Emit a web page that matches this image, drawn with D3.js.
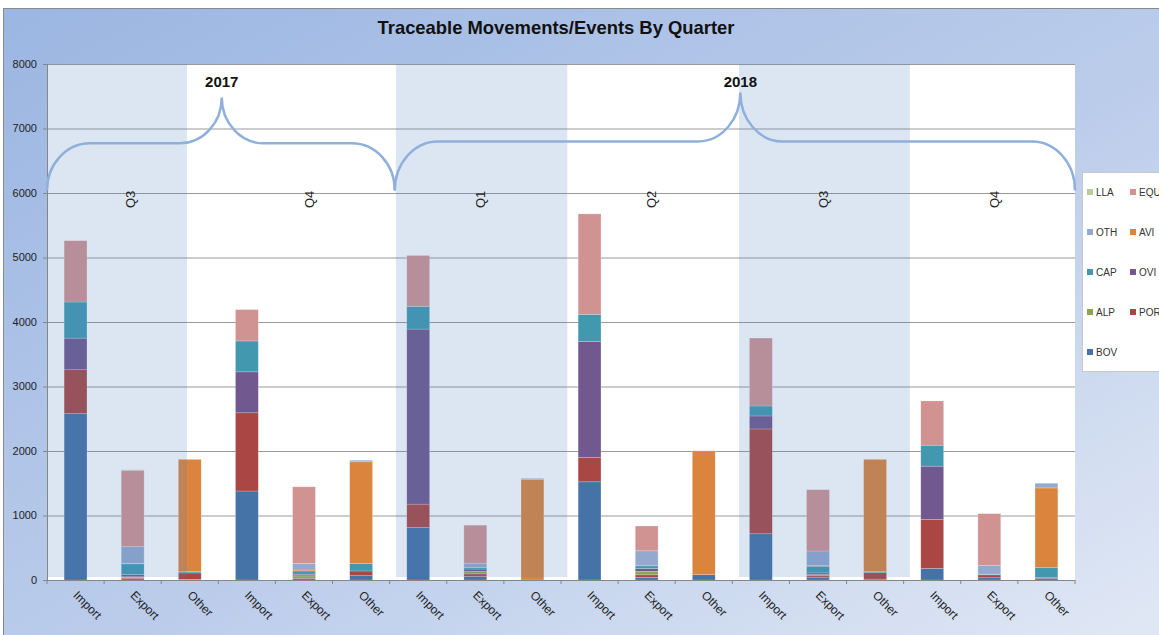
<!DOCTYPE html>
<html>
<head>
<meta charset="utf-8">
<title>Traceable Movements/Events By Quarter</title>
<style>
	body { margin: 0; background: #fff; }
	text { font-family: "Liberation Sans", Arial, sans-serif; }
</style>
</head>
<body>
<script src="https://cdn.jsdelivr.net/npm/d3@7"></script>
<script>

// chart data
var title = "Traceable Movements/Events By Quarter";
var years = ["2017", "2018"];
var quarters = ["Q3", "Q4", "Q1", "Q2", "Q3", "Q4"];
var kinds = ["Import", "Export", "Other"];
var yTicks = [0, 1000, 2000, 3000, 4000, 5000, 6000, 7000, 8000];
var series = ["BOV", "POR", "ALP", "OVI", "CAP", "AVI", "OTH", "EQU", "LLA"];

var BOV = [2580, 20, 10, 1380, 25, 67, 816, 55, 0, 1522, 40, 82, 717, 35, 15, 181, 35, 20];
var POR = [680, 20, 100, 1212, 20, 73, 360, 40, 0, 377, 40, 0, 1625, 30, 100, 758, 45, 0];
var ALP = [0, 10, 0, 0, 20, 0, 0, 40, 0, 0, 55, 0, 0, 20, 0, 0, 0, 0];
var OVI = [490, 35, 0, 635, 25, 0, 2714, 35, 0, 1801, 45, 0, 201, 25, 0, 826, 0, 15];
var CAP = [560, 165, 25, 479, 50, 113, 351, 25, 0, 418, 40, 0, 155, 104, 15, 325, 10, 155];
var AVI = [0, 10, 1735, 0, 15, 1579, 0, 0, 1560, 0, 0, 1920, 0, 10, 1740, 0, 0, 1238];
var OTH = [0, 258, 0, 0, 100, 25, 0, 65, 15, 0, 232, 0, 0, 226, 0, 0, 139, 72];
var EQU = [950, 1181, 0, 486, 1190, 0, 790, 590, 0, 1558, 385, 0, 1053, 950, 0, 686, 800, 0];
var LLA = [0, 10, 0, 0, 0, 0, 0, 0, 0, 0, 0, 0, 0, 0, 0, 0, 0, 0];

var values = { BOV: BOV, POR: POR, ALP: ALP, OVI: OVI, CAP: CAP, AVI: AVI, OTH: OTH, EQU: EQU, LLA: LLA };

var colors = {
	BOV: "#4572a7", POR: "#aa4643", ALP: "#89a54e", OVI: "#71588f", CAP: "#4198af",
	AVI: "#db843d", OTH: "#93a9cf", EQU: "#d19392", LLA: "#b9cd96"
};

// layout (plotTop etc. - "top" clashes with window.top)
var W = 1159, H = 635;
var plotLeft = 47, plotRight = 1075, plotTop = 64, plotBottom = 580;

var keys = [];
quarters.forEach(function (q, i) {
	kinds.forEach(function (k) { keys.push(i + "|" + k); });
});

var rows = keys.map(function (key, i) {
	var r = { key: key };
	series.forEach(function (s) { r[s] = values[s][i]; });
	return r;
});

var x = d3.scaleBand()
	.domain(keys)
	.range([plotLeft, plotRight])
	.paddingInner(0.6)
	.paddingOuter(0.3);

// band index -> pixel, used for shading and brace annotations
var xi = d3.scaleLinear().domain([0, keys.length]).range([plotLeft, plotRight]);

var y = d3.scaleLinear()
	.domain([0, 8000])
	.range([plotBottom, plotTop]);

var svg = d3.select("body").append("svg")
	.attr("width", W)
	.attr("height", H);

var defs = svg.append("defs");
var grad = defs.append("linearGradient")
	.attr("id", "bg")
	.attr("x1", 0).attr("y1", 0)
	.attr("x2", 1).attr("y2", 1);
grad.append("stop").attr("offset", "0%").attr("stop-color", "#9bb6e2");
grad.append("stop").attr("offset", "55%").attr("stop-color", "#bccdeb");
grad.append("stop").attr("offset", "100%").attr("stop-color", "#e2e9f5");

svg.append("rect")
	.attr("x", 3.5).attr("y", 8.5)
	.attr("width", W + 10).attr("height", H + 10)
	.attr("fill", "url(#bg)")
	.attr("stroke", "#8a8a8a");

// title
svg.append("text")
	.attr("x", 556)
	.attr("y", 34)
	.attr("text-anchor", "middle")
	.attr("textLength", 357)
	.attr("lengthAdjust", "spacingAndGlyphs")
	.style("font-family", "'Liberation Sans Narrow', 'Liberation Sans', Arial, sans-serif")
	.style("font-size", "19px")
	.style("font-weight", "bold")
	.attr("fill", "#111")
	.text(title);

// plot area
svg.append("rect")
	.attr("x", plotLeft).attr("y", plotTop)
	.attr("width", plotRight - plotLeft).attr("height", plotBottom - plotTop)
	.attr("fill", "#fff");

// grid
svg.append("g")
	.selectAll("line")
	.data(yTicks.slice(1))
	.enter().append("line")
	.attr("x1", plotLeft).attr("x2", plotRight)
	.attr("y1", function (d) { return y(d) + 0.5; })
	.attr("y2", function (d) { return y(d) + 0.5; })
	.attr("stroke", "#9a9a9a")
	.attr("stroke-width", 1);

// stacked bars
var stacked = d3.stack().keys(series)(rows);

svg.append("g")
	.selectAll("g")
	.data(stacked)
	.enter().append("g")
	.attr("fill", function (d) { return colors[d.key]; })
	.selectAll("rect")
	.data(function (d) { return d; })
	.enter().append("rect")
	.attr("x", function (d) { return x(d.data.key); })
	.attr("width", x.bandwidth())
	.attr("y", function (d) { return y(d[1]); })
	.attr("height", function (d) { return y(d[0]) - y(d[1]); })
	.attr("stroke", "rgba(255,255,255,0.35)")
	.attr("stroke-width", 0.6);

// quarter shading (overlay)
var shades = [[0, 2.45], [6.09, 9.11], [12.1, 15.11]];
svg.append("g")
	.selectAll("rect")
	.data(shades)
	.enter().append("rect")
	.attr("x", function (d) { return xi(d[0]) + 1; })
	.attr("width", function (d) { return xi(d[1]) - xi(d[0]) - 1; })
	.attr("y", plotTop)
	.attr("height", plotBottom - plotTop - 3)
	.attr("fill", "#4f81bd")
	.attr("fill-opacity", 0.2);

// axes
var axisColor = "#868686";
svg.append("line")
	.attr("x1", plotLeft + 0.5).attr("x2", plotLeft + 0.5)
	.attr("y1", plotTop).attr("y2", plotBottom)
	.attr("stroke", axisColor);
svg.append("line")
	.attr("x1", plotLeft).attr("x2", plotRight)
	.attr("y1", plotBottom + 0.5).attr("y2", plotBottom + 0.5)
	.attr("stroke", axisColor);

var yAxis = svg.append("g");
yAxis.selectAll("line")
	.data(yTicks)
	.enter().append("line")
	.attr("x1", plotLeft - 4).attr("x2", plotLeft)
	.attr("y1", function (d) { return y(d) + 0.5; })
	.attr("y2", function (d) { return y(d) + 0.5; })
	.attr("stroke", axisColor);
yAxis.selectAll("text")
	.data(yTicks)
	.enter().append("text")
	.attr("x", 37)
	.attr("y", function (d) { return y(d); })
	.attr("dy", "0.35em")
	.attr("text-anchor", "end")
	.style("font-size", "11px")
	.attr("fill", "#222")
	.text(function (d) { return d; });

var xTicks = d3.range(keys.length + 1);
svg.append("g")
	.selectAll("line")
	.data(xTicks)
	.enter().append("line")
	.attr("x1", function (d) { return xi(d); })
	.attr("x2", function (d) { return xi(d); })
	.attr("y1", plotBottom).attr("y2", plotBottom + 4)
	.attr("stroke", axisColor);

svg.append("g")
	.selectAll("text")
	.data(keys)
	.enter().append("text")
	.attr("transform", function (d) {
		return "translate(" + (x(d) + x.bandwidth() / 2 - 3) + "," + 596 + ") rotate(45)";
	})
	.style("font-size", "12px")
	.attr("fill", "#222")
	.text(function (d) { return d.split("|")[1]; });

// quarter labels
svg.append("g")
	.selectAll("text")
	.data(quarters)
	.enter().append("text")
	.attr("transform", function (d, i) {
		var cx = x(i + "|Export") + x.bandwidth() / 2 + (i == 0 ? -2 : 5);
		return "translate(" + cx + "," + y(5900) + ") rotate(-90)";
	})
	.attr("text-anchor", "middle")
	.attr("dy", "0.35em")
	.style("font-size", "13px")
	.attr("fill", "#222")
	.text(function (d) { return d; });

// year braces
var braces = [
	{ from: 0, tip: 3.06, to: 6.09, end: 6040, mid: 6770, peak: 7480, label: 7650 },
	{ from: 6.09, tip: 12.14, to: 18, end: 6040, mid: 6800, peak: 7560, label: 7650 }
];

function bracePath(b) {
	var x0 = xi(b.from), xm = xi(b.tip), x1 = xi(b.to);
	var ye = y(b.end), ym = y(b.mid), yt = y(b.peak);
	var r = 43, rt = 42;
	var ry1 = ye - ym, ry2 = ym - yt;
	return "M" + x0 + "," + ye +
		" A" + r + "," + ry1 + " 0 0 1 " + (x0 + r) + "," + ym +
		" L" + (xm - rt) + "," + ym +
		" A" + rt + "," + ry2 + " 0 0 0 " + xm + "," + yt +
		" A" + rt + "," + ry2 + " 0 0 0 " + (xm + rt) + "," + ym +
		" L" + (x1 - r) + "," + ym +
		" A" + r + "," + ry1 + " 0 0 1 " + x1 + "," + ye;
}

svg.append("g")
	.selectAll("path")
	.data(braces)
	.enter().append("path")
	.attr("d", bracePath)
	.attr("fill", "none")
	.attr("stroke", "#8eb0da")
	.attr("stroke-width", 2.5);

svg.append("g")
	.selectAll("text")
	.data(braces)
	.enter().append("text")
	.attr("x", function (d) { return xi(d.tip); })
	.attr("y", function (d) { return y(d.label); })
	.attr("text-anchor", "middle")
	.style("font-size", "15px")
	.style("font-weight", "bold")
	.attr("fill", "#111")
	.text(function (d, i) { return years[i]; });

// legend
var legendOrder = ["LLA", "EQU", "OTH", "AVI", "CAP", "OVI", "ALP", "POR", "BOV"];
svg.append("rect")
	.attr("x", 1082.5).attr("y", 172.5)
	.attr("width", 100).attr("height", 199)
	.attr("fill", "#fff")
	.attr("stroke", "#c8c8c8");

var legend = svg.append("g")
	.selectAll("g")
	.data(legendOrder)
	.enter().append("g")
	.attr("transform", function (d, i) {
		return "translate(" + (1087 + (i % 2) * 43) + "," + (192 + Math.floor(i / 2) * 40) + ")";
	});
legend.append("rect")
	.attr("x", 0).attr("y", -3)
	.attr("width", 6).attr("height", 6)
	.attr("fill", function (d) { return colors[d]; });
legend.append("text")
	.attr("x", 9)
	.attr("dy", "0.35em")
	.style("font-size", "10px")
	.attr("fill", "#333")
	.text(function (d) { return d; });

</script>
</body>
</html>
